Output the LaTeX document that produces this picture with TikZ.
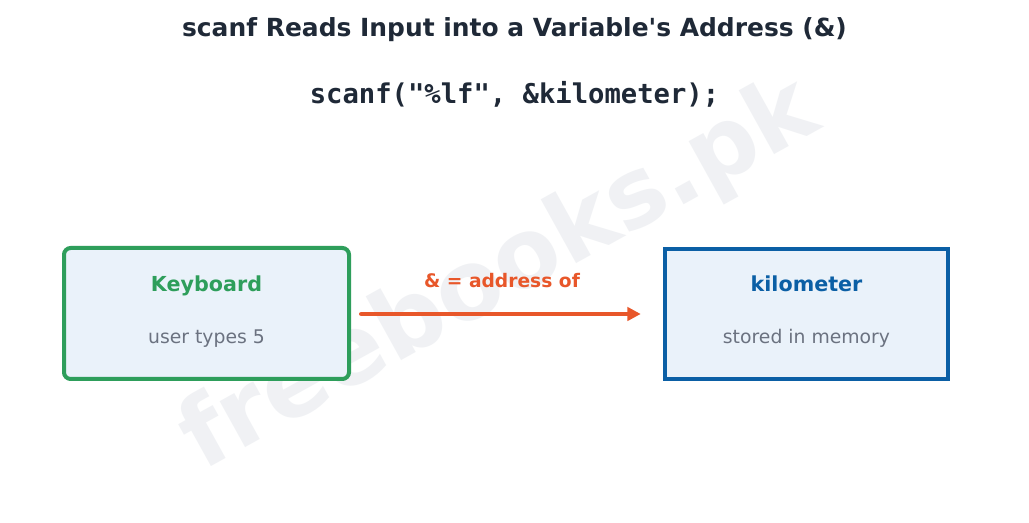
\documentclass[tikz,border=0pt]{standalone}
\usepackage{fontspec}
\usetikzlibrary{arrows.meta}
\setmainfont{DejaVu Sans}
\newfontfamily\codefont{DejaVu Sans Mono}
\definecolor{titlec}{HTML}{1F2937}
\definecolor{greenc}{HTML}{2E9E5B}
\definecolor{bluec}{HTML}{0B5FA5}
\definecolor{fillc}{HTML}{EAF2FA}
\definecolor{grayc}{HTML}{6B7280}
\definecolor{orangec}{HTML}{E8572A}
\definecolor{wmc}{HTML}{D8DCE3}
\begin{document}
\begin{tikzpicture}[x=0.75pt,y=-0.75pt,
  boxstyle/.style={line width=3pt,fill=fillc},
  headtext/.style={anchor=base,font=\bfseries\fontsize{15.5}{18}\selectfont},
  subtext/.style={anchor=base,text=grayc,font=\fontsize{14.1}{16}\selectfont},
  arrowstyle/.style={draw=orangec,line width=3.4pt,line cap=round,-{Triangle[length=10pt,width=10pt]}}]
\useasboundingbox[fill=white] (0,0) rectangle (1029,523);
\node[text=wmc,opacity=0.38,rotate=29,font=\bfseries\fontsize{72}{84}\selectfont] (wm) at (500,276) {freebooks.pk};
\node[text=titlec,font=\bfseries\fontsize{18.7}{22}\selectfont] (title) at (514.5,29.5) {scanf Reads Input into a Variable\textquotesingle s Address (\&)};
\node[text=titlec,font=\codefont\bfseries\fontsize{20.4}{24}\selectfont] (code) at (514.5,94.5) {scanf("\%lf", \&kilometer);};
\draw[boxstyle,draw=greenc,rounded corners=5pt] (64,248) rectangle (349,379);
\node (kb) at (206.5,314) [minimum width=285*0.75pt,minimum height=131*0.75pt] {};
\node[headtext,text=greenc] (kbh) at (206.5,292) {Keyboard};
\node[subtext] (kbs) at (206.5,344) {user types 5};
\draw[boxstyle,draw=bluec] (665,249) rectangle (948,379);
\node (km) at (806.5,314) [minimum width=283*0.75pt,minimum height=130*0.75pt] {};
\node[headtext,text=bluec] (kmh) at (806.5,292) {kilometer};
\node[subtext] (kms) at (806.5,344) {stored in memory};
\draw[arrowstyle] ([xshift=9pt]kb.east) -- ([xshift=-18pt]km.west);
\node[anchor=base,text=orangec,font=\bfseries\fontsize{14}{16}\selectfont] (lbl) at (502,288) {\& = address of};
\end{tikzpicture}
\end{document}
